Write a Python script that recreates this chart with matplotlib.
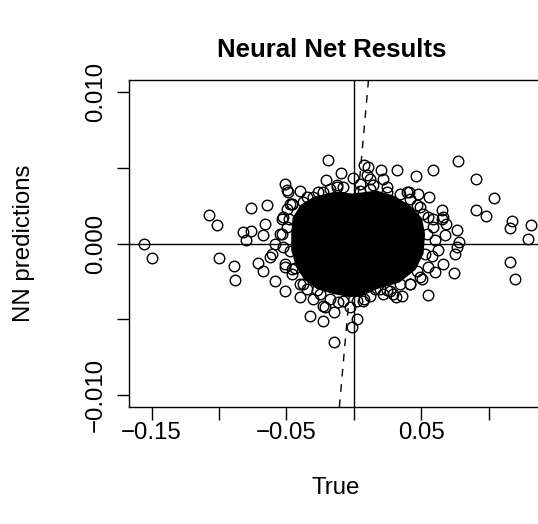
import matplotlib
matplotlib.use('Agg')
import matplotlib.pyplot as plt

# scattered circles (True, NN prediction)
outer = [(-0.1558, 0.0), (-0.1498, -0.00095), (-0.1075, 0.0019), (-0.1016, 0.00121),
         (-0.0998, -0.00099), (-0.0892, -0.00146), (-0.0879, -0.00243), (-0.0760, 0.00232),
         (-0.0644, 0.00252), (-0.0822, 0.00075), (-0.0760, 0.00082), (-0.0797, 0.0002),
         (-0.0661, 0.0013), (-0.0674, 0.00053), (-0.0711, -0.00126), (-0.0674, -0.00179),
         (-0.0624, -0.0009), (-0.0582, -0.0025), (-0.0513, -0.00316), (-0.0401, -0.00351),
         (-0.0510, 0.00391), (-0.0493, 0.00351), (-0.0401, 0.00347), (-0.0191, 0.0055),
         (-0.0097, 0.00468), (-0.0208, 0.00417), (-0.0129, 0.00384), (-0.0005, 0.00435),
         (0.0077, 0.00521), (0.0106, 0.00505), (0.0201, 0.00483), (0.0213, 0.00428),
         (0.0317, 0.00483), (0.0458, 0.00444), (0.0589, 0.00483), (0.0775, 0.00543),
         (0.0906, 0.00424), (0.1040, 0.0030), (0.0906, 0.00219), (0.0981, 0.00183),
         (0.1172, 0.00148), (0.1159, 0.00101), (0.1315, 0.00121), (0.1290, 0.00033),
         (0.1154, -0.00124), (0.1198, -0.00236), (0.0763, 0.00086), (0.0783, 0.00009),
         (0.0768, -0.00024), (0.0750, -0.00068), (0.0745, -0.00196), (0.0651, 0.00219),
         (0.0664, 0.00174), (0.0684, 0.0013), (0.0676, 0.00053), (0.0627, -0.00046),
         (0.0659, -0.00134), (0.0602, -0.0019), (0.0552, -0.0034), (0.0560, 0.00307),
         (0.0478, 0.00325), (0.0411, 0.0034), (0.0503, -0.00234), (0.0354, -0.00344),
         (0.0312, -0.00355), (-0.0322, -0.00477), (-0.0228, -0.00514), (-0.0146, -0.00455),
         (-0.0149, -0.00649), (-0.0030, -0.00422), (0.0025, -0.00499), (-0.0012, -0.0055),
         (-0.0215, -0.00422), (-0.0302, -0.00366), (-0.0117, -0.00389), (0.0077, -0.00366),
         (0.0156, -0.003), (0.0248, -0.00307)]

# circles crowding the edge of the solid blob
fringe = [(0.0119, 0.00428), (0.0045, 0.0035), (0.0119, 0.00362), (-0.0302, 0.00307),
          (-0.0129, 0.00373), (-0.0228, 0.0034), (-0.0525, 0.00174), (-0.0475, 0.00263),
          (-0.0377, 0.00274), (0.0466, 0.00252), (0.0515, 0.00197), (0.0589, 0.00164),
          (0.0242, 0.0034), (0.0391, 0.0034), (-0.0228, -0.0041), (0.0069, -0.00377),
          (-0.0377, -0.00267), (0.0416, -0.00267), (0.0292, -0.00333), (0.0193, -0.003),
          (-0.0607, -0.00069), (-0.0533, 0.00064), (-0.0496, 0.00108), (-0.0582, 0.0),
          (-0.0508, -0.00157), (-0.0458, -0.00168), (-0.0483, 0.00164), (-0.0458, 0.00263),
          (-0.0488, 0.0034), (0.0651, 0.00164), (0.0466, -0.00179), (0.0540, 0.0006),
          (0.0527, -0.0007), (-0.0475, -0.0005), (-0.0438, -0.0016), (0.0342, -0.0027),
          (-0.0277, -0.0031),
          (-0.0536, 0.00164), (-0.0549, 0.00064), (-0.0499, 0.0023), (-0.0462, 0.00263),
          (-0.0524, -0.00024), (-0.0511, -0.00134), (-0.0462, -0.0020), (-0.0400, -0.00267),
          (-0.0350, -0.0030), (-0.0251, -0.00333), (-0.0177, -0.00366), (-0.0350, 0.00307),
          (-0.0264, 0.0034), (-0.0177, 0.00362), (-0.0079, 0.00373), (0.0045, 0.00395),
          (0.0095, 0.0045), (0.0144, 0.00384), (0.0243, 0.00373), (0.0342, 0.00329),
          (0.0416, 0.00296), (0.0490, 0.0024), (0.0552, 0.00174), (0.0589, 0.00108),
          (0.0602, 0.0002), (0.0577, -0.0008), (0.0552, -0.00157), (0.0490, -0.00223),
          (0.0416, -0.00267), (0.0268, -0.00311), (0.0218, -0.00333), (0.0119, -0.00344),
          (0.0021, -0.00377), (-0.0079, -0.00377)]

# outline of the saturated (solid black) core
core_x = [-0.0455, -0.0395, -0.0298, -0.0152, -0.0005, 0.0168, 0.0290, 0.0410, 0.0505,
          0.0528, 0.0517, 0.0458, 0.0338, 0.0168, 0.0068, -0.0030, -0.0152, -0.0273,
          -0.0370, -0.0430, -0.0465, -0.0465]
core_y = [0.00170, 0.00256, 0.00308, 0.00340, 0.00330, 0.00350, 0.00318, 0.00256, 0.00168,
          0.00062, -0.00066, -0.00173, -0.00258, -0.00302, -0.00344, -0.00355, -0.00334,
          -0.00302, -0.00238, -0.00152, -0.00045, 0.00062]

xticks = [-0.15, -0.10, -0.05, 0.0, 0.05, 0.10]
xlabels = ['\u22120.15', '', '\u22120.05', '', '0.05', '']
yticks = [-0.010, -0.005, 0.0, 0.005, 0.010]
ylabels = ['\u22120.010', '', '0.000', '', '0.010']

plt.rcParams['font.family'] = ['Liberation Sans', 'DejaVu Sans']

W, H = 538, 524
fig = plt.figure(figsize=(W / 100, H / 100), dpi=100)
L, R, T, B = 129, 547, 80, 407
ax = fig.add_axes([L / W, 1 - B / H, (R - L) / W, (B - T) / H])

ax.fill(core_x, core_y, color='black', lw=0)
xs = [p[0] for p in outer + fringe]
ys = [p[1] for p in outer + fringe]
ax.plot(xs, ys, 'o', mfc='none', mec='black', ms=7.6, mew=1.0)

ax.axhline(0, color='black', lw=1.0)
ax.axvline(0, color='black', lw=1.0)
ax.axline((0, 0), slope=1, color='black', lw=1.0, ls=(0, (5.5, 5.5)))

ax.set_xlim(-0.1668, 0.1432)
ax.set_ylim(-0.0108, 0.0108)
ax.set_xticks(xticks)
ax.set_xticklabels(xlabels)
ax.set_yticks(yticks)
ax.set_yticklabels(ylabels, rotation=90, va='center')
ax.tick_params(axis='both', length=9, width=1.0, labelsize=17.3, direction='out')
ax.tick_params(axis='x', pad=2)
ax.tick_params(axis='y', pad=7)
for s in ax.spines.values():
    s.set_linewidth(1.0)

cx = 332 / W
fig.text(cx, 1 - 57 / H, 'Neural Net Results', ha='center', va='baseline',
         fontsize=18.5, fontweight='bold')
fig.text(336 / W, 1 - 494 / H, 'True', ha='center', va='baseline', fontsize=17.3)
fig.text(24 / W, 1 - 243.5 / H, 'NN predictions', rotation=90, ha='center', va='center',
         fontsize=17.3)

fig.savefig('out.png', dpi=100)
